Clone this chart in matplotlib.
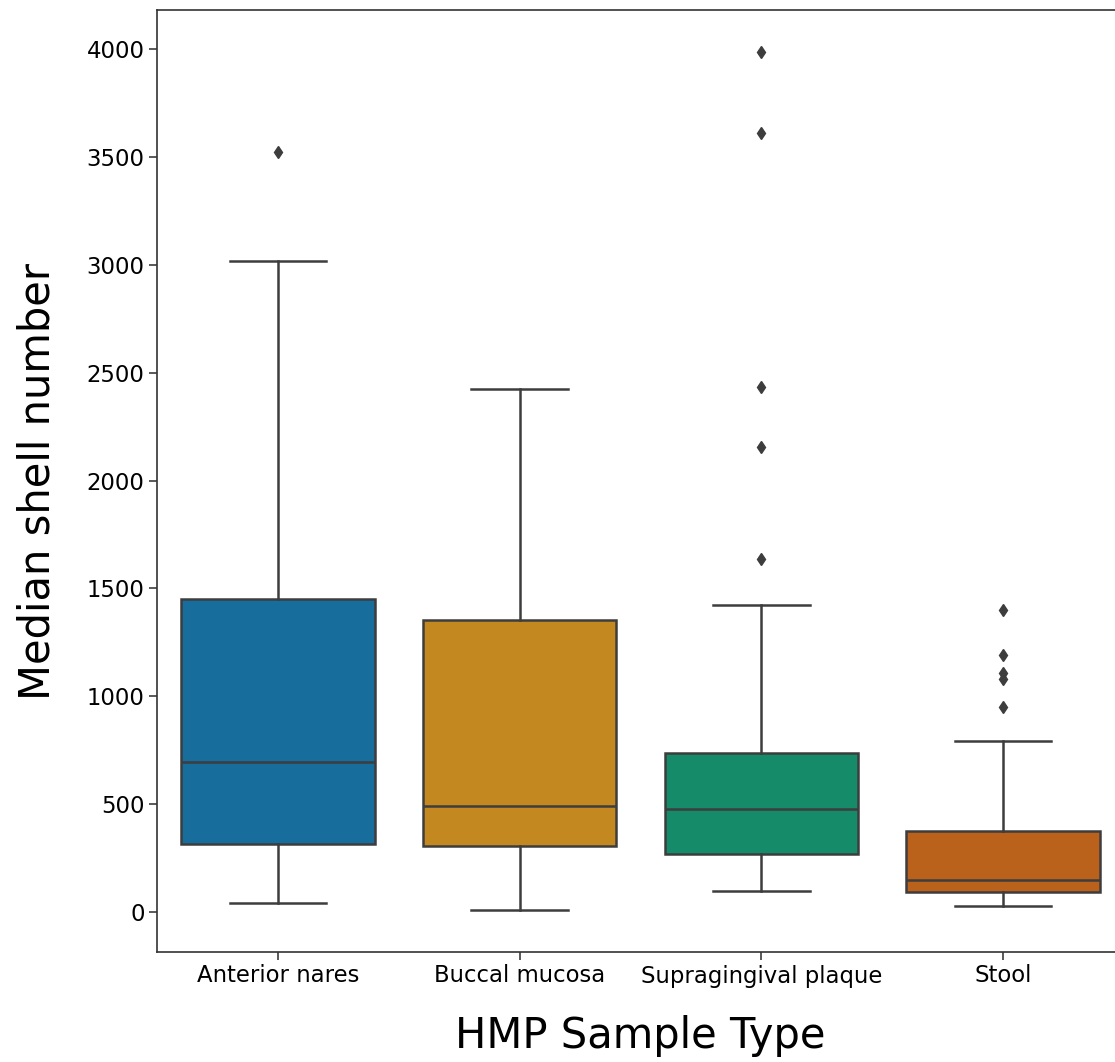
import colorsys
import matplotlib
matplotlib.use("Agg")
import matplotlib.pyplot as plt
import matplotlib.colors as mcolors

categories = ["Anterior nares", "Buccal mucosa", "Supragingival plaque", "Stool"]
whislo = [42, 9, 97, 28]
q1 = [315, 306, 269, 93]
med = [695, 491, 477, 148]
q3 = [1451, 1353, 737, 375]
whishi = [3017, 2424, 1423, 793]
fliers = [
    [3523],
    [],
    [3986, 3611, 2433, 2155, 1636],
    [1400, 1191, 1108, 1080, 950],
]
palette = ["#0173B2", "#DE8F05", "#029E73", "#D55E00"]


def desat(c, prop=0.75):
    r, g, b = mcolors.to_rgb(c)
    h, l, s = colorsys.rgb_to_hls(r, g, b)
    return colorsys.hls_to_rgb(h, l, s * prop)


stats = []
for i, cat in enumerate(categories):
    stats.append(dict(label=cat, whislo=whislo[i], q1=q1[i], med=med[i],
                      q3=q3[i], whishi=whishi[i], fliers=fliers[i]))

fig = plt.figure(figsize=(11.15, 10.62), dpi=100)
ax = fig.add_axes([157 / 1115, 1 - 952 / 1062, (1124 - 157) / 1115, (952 - 10) / 1062])

gray = "#3d3d3d"
lw = 1.8
bp = ax.bxp(stats, positions=range(len(categories)), widths=0.8, patch_artist=True,
            boxprops=dict(edgecolor=gray, linewidth=lw),
            medianprops=dict(color=gray, linewidth=lw),
            whiskerprops=dict(color=gray, linewidth=lw),
            capprops=dict(color=gray, linewidth=lw),
            flierprops=dict(marker="d", markerfacecolor=gray, markeredgecolor=gray,
                            markersize=6, linestyle="none"))
for patch, c in zip(bp["boxes"], palette):
    patch.set_facecolor(desat(c))

ax.set_xlim(-0.5, len(categories) - 0.5)
ax.set_ylim(-186, 4182)
ax.set_xticks(range(len(categories)))
ax.set_xticklabels(categories)
ax.set_yticks([0, 500, 1000, 1500, 2000, 2500, 3000, 3500, 4000])
ax.tick_params(labelsize=16.4, length=6, width=1.2, color=gray, pad=3)
for s in ax.spines.values():
    s.set_color("#333333")
    s.set_linewidth(1.2)

ax.set_xlabel("HMP Sample Type", fontsize=30, labelpad=20)
ax.set_ylabel("Median shell number", fontsize=30, labelpad=20)

fig.savefig("out.png", dpi=100)
